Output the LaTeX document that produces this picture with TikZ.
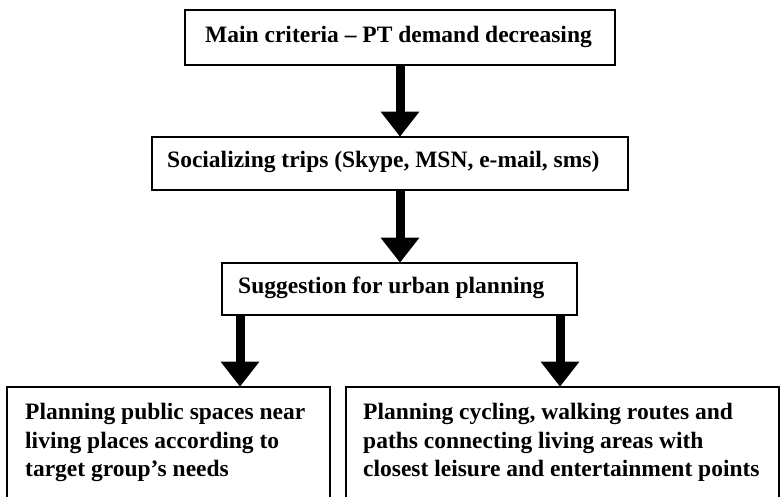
\documentclass[tikz,border=0pt]{standalone}
\usepackage{fontspec}
\setmainfont{Liberation Serif}
\usetikzlibrary{arrows.meta}
\begin{document}
\begin{tikzpicture}[x=1pt,y=-1pt,
  box/.style={draw, line width=2.6pt, inner sep=0pt},
  label/.style={font=\bfseries\fontsize{23.5}{28.5}\selectfont, inner sep=0pt},
  flow/.style={line width=9pt, -{Triangle[width=37pt,length=25pt]}, shorten >=-1pt}]
\useasboundingbox (0,0) rectangle (782,497);
\clip (0,0) rectangle (782,497);
% boxes
\node[box, minimum width=430pt, minimum height=55pt] (crit) at (400,37.5) {};
\node[box, minimum width=476pt, minimum height=53pt] (social) at (390,163.5) {};
\node[box, minimum width=355pt, minimum height=52pt] (sugg) at (399.5,289) {};
\node[box, minimum width=323pt, minimum height=160pt] (pub) at (168.5,467) {};
\node[box, minimum width=433pt, minimum height=160pt] (cyc) at (562.5,467) {};
% texts
\node[label, anchor=base west] at (205,43) {Main criteria – PT demand decreasing};
\node[label, anchor=base west] at (167,168) {Socializing trips (Skype, MSN, e-mail, sms)};
\node[label, anchor=base west] at (238,294) {Suggestion for urban planning};
\node[label, anchor=north west, align=left] at (25,403) {Planning public spaces near\\living places according to\\target group’s needs};
\node[label, anchor=north west, align=left] at (363,403) {Planning cycling, walking routes and\\paths connecting living areas with\\closest leisure and entertainment points};
% connectors
\draw[flow] (crit.south) -- (crit.south |- social.north);
\draw[flow] (social.south -| crit.south) -- (sugg.north -| crit.south);
\draw[flow] (sugg.south -| 240,0) -- (pub.north -| 240,0);
\draw[flow] (sugg.south -| 560,0) -- (cyc.north -| 560,0);
\end{tikzpicture}
\end{document}
